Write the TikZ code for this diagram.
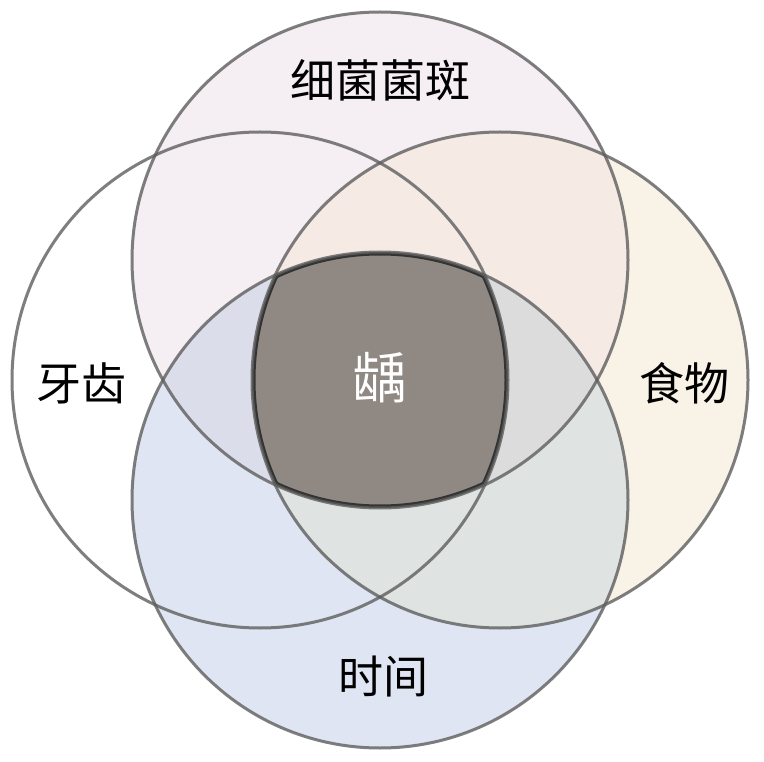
\documentclass[tikz,border=0pt]{standalone}
\usepackage{fontspec}
\newfontfamily\cjk{Noto Sans CJK SC}
\definecolor{pinkfill}{HTML}{F5EEF3}
\definecolor{beigefill}{HTML}{F8F2E7}
\definecolor{bluefill}{HTML}{DFE5F2}
\definecolor{trfill}{HTML}{F5EAE4}
\definecolor{rbfill}{HTML}{DFE3E2}
\definecolor{tbfill}{HTML}{DCDDEA}
\definecolor{trbfill}{HTML}{DCDCDC}
\definecolor{corefill}{HTML}{8F8883}
\definecolor{ringgray}{HTML}{5E5E5E}
\definecolor{coreedge}{HTML}{333333}
\tikzset{
  ring/.style={draw=ringgray, draw opacity=0.8, line width=3pt},
  label/.style={font=\cjk\fontsize{45}{50}\selectfont, text=black, inner sep=0pt},
}
\begin{document}
\begin{tikzpicture}[x=1pt,y=-1pt]
\useasboundingbox (0,0) rectangle (764,762);
\fill[white] (0,0) rectangle (764,762);
\coordinate (cl) at (260,380);
\coordinate (ct) at (380,260);
\coordinate (cr) at (500,380);
\coordinate (cb) at (380,500);
% single fills
\fill[pinkfill] (ct) circle[radius=248];
\fill[beigefill] (cr) circle[radius=248];
\fill[bluefill] (cb) circle[radius=248];
% pairwise overlaps
\begin{scope}
\clip (ct) circle[radius=248];
\fill[trfill] (cr) circle[radius=248];
\end{scope}
\begin{scope}
\clip (cr) circle[radius=248];
\fill[rbfill] (cb) circle[radius=248];
\end{scope}
\begin{scope}
\clip (ct) circle[radius=248];
\fill[tbfill] (cb) circle[radius=248];
\end{scope}
\begin{scope}
\clip (ct) circle[radius=248];
\clip (cr) circle[radius=248];
\fill[trbfill] (cb) circle[radius=248];
\end{scope}
% core region
\begin{scope}
\clip (cl) circle[radius=248];
\clip (ct) circle[radius=248];
\clip (cr) circle[radius=248];
\clip (cb) circle[radius=248];
\fill[corefill] (0,0) rectangle (764,762);
\draw[coreedge, line width=7pt] (cl) circle[radius=248];
\draw[coreedge, line width=7pt] (ct) circle[radius=248];
\draw[coreedge, line width=7pt] (cr) circle[radius=248];
\draw[coreedge, line width=7pt] (cb) circle[radius=248];
\end{scope}
% outlines
\draw[ring] (cl) circle[radius=248];
\draw[ring] (ct) circle[radius=248];
\draw[ring] (cr) circle[radius=248];
\draw[ring] (cb) circle[radius=248];
% labels
\node[label] (top) at (380,80) {细菌菌斑};
\node[label] (left) at (81,383) {牙齿};
\node[label] (right) at (684,383) {食物};
\node[label] (bottom) at (383,677) {时间};
\node[label, text=white, font=\cjk\fontsize{55}{60}\selectfont] (core) at (380,378) {龋};
\end{tikzpicture}
\end{document}
